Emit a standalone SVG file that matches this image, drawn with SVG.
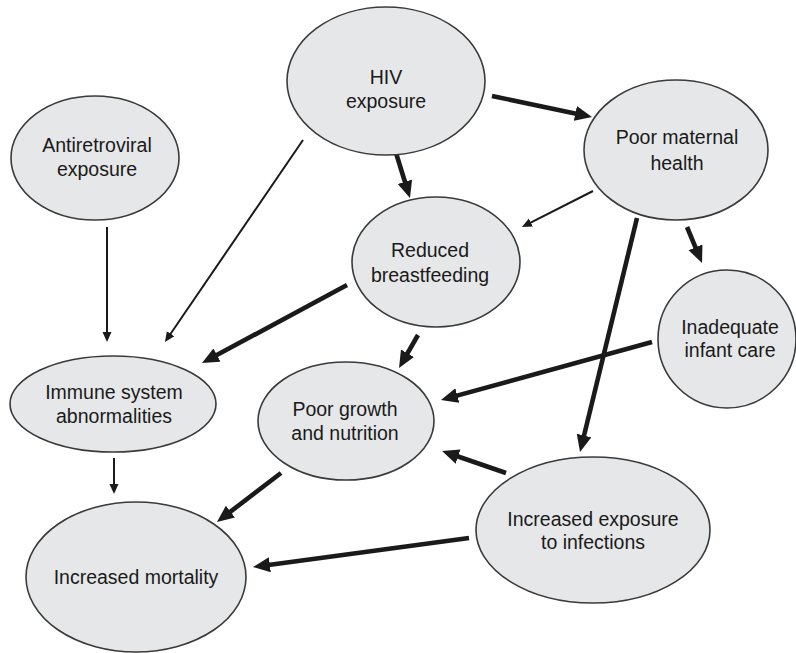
<svg xmlns="http://www.w3.org/2000/svg" width="796" height="653" viewBox="0 0 796 653">
<defs>
<style>
.node ellipse{fill:#e6e7e8;stroke:#3a3a3a;stroke-width:1.6}
.node text{font-family:"Liberation Sans",Arial,sans-serif;font-size:19.5px;fill:#1a1a1a;text-anchor:middle}
.thick{stroke:#1a1a1a;stroke-width:4.6;fill:none;marker-end:url(#ah)}
.thin{stroke:#1a1a1a;stroke-width:2;fill:none;marker-end:url(#at)}
</style>
<marker id="ah" markerUnits="userSpaceOnUse" markerWidth="18" markerHeight="16" refX="7" refY="7.5" orient="auto"><path d="M0,0 L17,7.5 L0,15 z" fill="#1a1a1a"/></marker>
<marker id="at" markerUnits="userSpaceOnUse" markerWidth="11" markerHeight="10" refX="3" refY="4.5" orient="auto"><path d="M0,0 L10,4.5 L0,9 z" fill="#1a1a1a"/></marker>
</defs>
<rect width="796" height="653" fill="#ffffff"/>
<g id="connectors">
<path class="thick" d="M492,96 L582.2,114.9"/>
<path class="thick" d="M396,153 L407,188.5"/>
<path class="thin" d="M303,140 L168.9,336.2"/>
<path class="thin" d="M107,227 L107,335"/>
<path class="thin" d="M593,191 L528.2,223.8"/>
<path class="thick" d="M687,227 L698.2,253.8"/>
<path class="thick" d="M637,218 L582.4,442.3"/>
<path class="thick" d="M347,285 L210.8,358.3"/>
<path class="thick" d="M418,335 L404,359.3"/>
<path class="thick" d="M652,342 L450.6,397.4"/>
<path class="thick" d="M506,473 L451.5,454.3"/>
<path class="thick" d="M281,473 L224.9,515.9"/>
<path class="thin" d="M114,458 L114,487"/>
<path class="thick" d="M469,538 L262.9,565.7"/>
</g>
<g id="hiv" class="node"><ellipse cx="386" cy="81" rx="99" ry="74"/><text x="386" y="84">HIV</text><text x="386" y="108">exposure</text></g>
<g id="arv" class="node"><ellipse cx="95" cy="158" rx="84" ry="62"/><text x="97" y="152">Antiretroviral</text><text x="97" y="176">exposure</text></g>
<g id="pmh" class="node"><ellipse cx="676" cy="150" rx="92" ry="70"/><text x="677" y="144">Poor maternal</text><text x="677" y="170">health</text></g>
<g id="rbf" class="node"><ellipse cx="436" cy="262" rx="84" ry="65"/><text x="430" y="257">Reduced</text><text x="430" y="282">breastfeeding</text></g>
<g id="iic" class="node"><ellipse cx="727" cy="339" rx="69" ry="69"/><text x="730" y="334">Inadequate</text><text x="730" y="357">infant care</text></g>
<g id="isa" class="node"><ellipse cx="113" cy="404" rx="103" ry="48"/><text x="114" y="399">Immune system</text><text x="114" y="423">abnormalities</text></g>
<g id="pgn" class="node"><ellipse cx="346" cy="421" rx="88" ry="59"/><text x="345" y="416">Poor growth</text><text x="345" y="440">and nutrition</text></g>
<g id="iei" class="node"><ellipse cx="593" cy="530" rx="117" ry="73"/><text x="593" y="526">Increased exposure</text><text x="593" y="549">to infections</text></g>
<g id="mort" class="node"><ellipse cx="136" cy="577" rx="110" ry="75"/><text x="136" y="584">Increased mortality</text></g>
</svg>
